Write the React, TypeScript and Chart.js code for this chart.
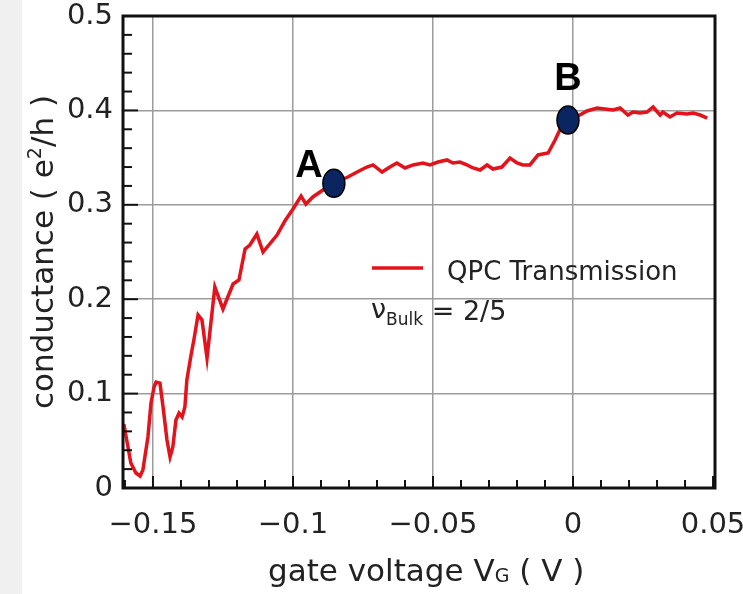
import React, { useEffect, useRef } from "react";
import { Chart, registerables } from "chart.js";

Chart.register(...registerables);

// ---- data ----
const gateVoltage = [
  -0.1604, -0.1579, -0.1561, -0.1546, -0.1536, -0.1518, -0.1507, -0.1496, -0.1489, -0.1475,
  -0.1464, -0.145, -0.1439, -0.1429, -0.1418, -0.1407, -0.1396, -0.1386, -0.1379, -0.1364,
  -0.1354, -0.1339, -0.1325, -0.1307, -0.1279, -0.125, -0.1214, -0.1193, -0.1171, -0.1154,
  -0.1129, -0.1107, -0.1057, -0.1029, -0.1, -0.0971, -0.0954, -0.0929, -0.0893, -0.0854,
  -0.0804, -0.0771, -0.0736, -0.0714, -0.0682, -0.0654, -0.0629, -0.06, -0.0571, -0.0536,
  -0.0511, -0.0482, -0.045, -0.0429, -0.0404, -0.0379, -0.0357, -0.0332, -0.0307, -0.0286,
  -0.0254, -0.0225, -0.02, -0.0179, -0.0154, -0.0125, -0.0089, -0.0064, -0.0039, -0.0018,
  0.0018, 0.005, 0.0086, 0.0114, 0.0143, 0.0168, 0.0196, 0.0214, 0.0239, 0.0264,
  0.0286, 0.0311, 0.0321, 0.0346, 0.0371, 0.0407, 0.0429, 0.0454, 0.0479,
];
const conductance = [
  0.0678, 0.0265, 0.0159, 0.0127, 0.0191, 0.054, 0.09, 0.107, 0.1123, 0.1112,
  0.0858, 0.0508, 0.0328, 0.0434, 0.072, 0.0794, 0.0752, 0.0858, 0.1144, 0.1409,
  0.1568, 0.1833, 0.178, 0.1377, 0.2129, 0.1896, 0.2161, 0.2203, 0.2532, 0.2574,
  0.2691, 0.25, 0.268, 0.2828, 0.2956, 0.3093, 0.3008, 0.3083, 0.3157, 0.3231,
  0.3294, 0.3347, 0.34, 0.3422, 0.3347, 0.34, 0.3443, 0.339, 0.3422, 0.3443,
  0.3422, 0.3453, 0.3475, 0.3443, 0.3453, 0.3422, 0.339, 0.3369, 0.3422, 0.3379,
  0.34, 0.3496, 0.3443, 0.3422, 0.3422, 0.3528, 0.3549, 0.3686, 0.3845, 0.3898,
  0.3941, 0.3994, 0.4025, 0.4015, 0.4004, 0.4025, 0.3951, 0.3983, 0.3972, 0.3983,
  0.4036, 0.3951, 0.3983, 0.393, 0.3972, 0.3962, 0.3972, 0.3951, 0.3919,
];
const seriesLabel = "QPC Transmission";
const xTickValues = [-0.15, -0.1, -0.05, 0, 0.05];
const xTickLabels = ["−0.15", "−0.1", "−0.05", "0", "0.05"];
const yTickValues = [0, 0.1, 0.2, 0.3, 0.4, 0.5];
const yTickLabels = ["0", "0.1", "0.2", "0.3", "0.4", "0.5"];
const markerNames = ["A", "B"];
const markerX = [-0.0854, -0.0018];
const markerY = [0.3228, 0.3898];

// ---- styles ----
const FONT = "'DejaVu Sans', 'Noto Sans', sans-serif";
const TEXT = "#222";
const RED = "#e3121b";
const GRID = "#9c9c9c";
const labelOffsets = [
  { dx: -25, dy: -6 },
  { dx: 0, dy: -30 },
];

function findLabel(values: number[], labels: string[], v: number) {
  const i = values.findIndex((t) => Math.abs(t - v) < 1e-9);
  return i >= 0 ? labels[i] : "";
}

const overlay = {
  id: "overlay",
  afterDatasetsDraw(chart: any) {
    const { ctx, chartArea: a, scales } = chart;
    const xs = scales.x;
    const ys = scales.y;
    ctx.save();

    // inward tick marks (minor + major)
    ctx.strokeStyle = "#111";
    ctx.lineWidth = 2;
    for (let i = -16; i <= 5; i++) {
      const v = i / 100;
      if (v < xs.min || v > xs.max) continue;
      const px = xs.getPixelForValue(v);
      const major = i % 5 === 0;
      ctx.beginPath();
      ctx.moveTo(px, a.bottom);
      ctx.lineTo(px, a.bottom - (major ? 12 : 8));
      ctx.stroke();
    }
    for (let i = 0; i <= 25; i++) {
      const v = i * 0.02;
      const py = ys.getPixelForValue(v);
      const major = i % 5 === 0;
      ctx.beginPath();
      ctx.moveTo(a.left, py);
      ctx.lineTo(a.left + (major ? 15 : 9), py);
      ctx.stroke();
    }

    // frame
    ctx.lineWidth = 3;
    ctx.strokeStyle = "#111";
    ctx.strokeRect(a.left, a.top, a.right - a.left, a.bottom - a.top);

    // markers A and B
    markerNames.forEach((name, i) => {
      const px = xs.getPixelForValue(markerX[i]);
      const py = ys.getPixelForValue(markerY[i]);
      ctx.beginPath();
      ctx.ellipse(px, py, 11, 14, 0, 0, Math.PI * 2);
      ctx.fillStyle = "#0b2560";
      ctx.fill();
      ctx.lineWidth = 1.5;
      ctx.strokeStyle = "#000";
      ctx.stroke();
      ctx.fillStyle = "#000";
      ctx.font = "bold 38px 'Liberation Sans', Arial, sans-serif";
      ctx.textAlign = "center";
      ctx.textBaseline = "alphabetic";
      ctx.fillText(name, px + labelOffsets[i].dx, py + labelOffsets[i].dy);
    });

    // legend
    ctx.strokeStyle = RED;
    ctx.lineWidth = 3.5;
    ctx.beginPath();
    ctx.moveTo(372, 268);
    ctx.lineTo(423, 268);
    ctx.stroke();
    ctx.fillStyle = TEXT;
    ctx.textAlign = "left";
    ctx.textBaseline = "alphabetic";
    ctx.font = `26px ${FONT}`;
    ctx.fillText(chart.data.datasets[0].label, 447, 280);
    ctx.font = `27px ${FONT}`;
    ctx.fillText("ν", 371, 318);
    let x = 371 + ctx.measureText("ν").width;
    ctx.font = `17px ${FONT}`;
    ctx.fillText("Bulk", x, 325);
    x += ctx.measureText("Bulk").width;
    ctx.font = `27px ${FONT}`;
    ctx.fillText(" = 2/5", x, 320);

    // x axis title
    ctx.font = `31px ${FONT}`;
    ctx.fillStyle = TEXT;
    let tx = 268;
    const ty = 581;
    ctx.fillText("gate voltage V", tx, ty);
    tx += ctx.measureText("gate voltage V").width;
    ctx.font = `19px ${FONT}`;
    ctx.fillText("G", tx, ty + 1);
    tx += ctx.measureText("G").width;
    ctx.font = `31px ${FONT}`;
    ctx.fillText(" ( V )", tx, ty);

    // y axis title (rotated)
    ctx.save();
    ctx.font = `31px ${FONT}`;
    const p1 = "conductance ( e";
    const p3 = "/h )";
    const w1 = ctx.measureText(p1).width;
    const w3 = ctx.measureText(p3).width;
    ctx.font = `19px ${FONT}`;
    const w2 = ctx.measureText("2").width;
    const total = w1 + w2 + w3;
    const cy = (a.top + a.bottom) / 2;
    ctx.translate(53, cy + total / 2);
    ctx.rotate(-Math.PI / 2);
    ctx.font = `31px ${FONT}`;
    ctx.fillText(p1, 0, 0);
    ctx.font = `19px ${FONT}`;
    ctx.fillText("2", w1, -12);
    ctx.font = `31px ${FONT}`;
    ctx.fillText(p3, w1 + w2, 0);
    ctx.restore();

    ctx.restore();
  },
};

export default function App() {
  const ref = useRef<HTMLCanvasElement>(null);

  useEffect(() => {
    const canvas = ref.current;
    if (!canvas) return;
    const chart = new Chart(canvas, {
      type: "line",
      data: {
        datasets: [
          {
            label: seriesLabel,
            data: gateVoltage.map((v, i) => ({ x: v, y: conductance[i] })),
            borderColor: RED,
            borderWidth: 3.5,
            pointRadius: 0,
            tension: 0,
            fill: false,
          },
        ],
      },
      options: {
        responsive: false,
        maintainAspectRatio: false,
        devicePixelRatio: 1,
        animation: false,
        events: [],
        layout: { padding: { top: 16, left: 0, right: 85, bottom: 0 } },
        plugins: { legend: { display: false }, tooltip: { enabled: false } },
        scales: {
          x: {
            type: "linear",
            min: -0.1607,
            max: 0.0507,
            afterBuildTicks: (scale: any) => {
              scale.ticks = xTickValues.map((v) => ({ value: v }));
            },
            afterFit: (scale: any) => {
              scale.height = 106;
              scale.paddingLeft = 0;
              scale.paddingRight = 0;
            },
            border: { display: false },
            grid: {
              drawTicks: false,
              lineWidth: 1.5,
              color: (c: any) =>
                c.tick && Math.abs(c.tick.value - 0.05) < 1e-9 ? "rgba(0,0,0,0)" : GRID,
            },
            ticks: {
              padding: 20,
              maxRotation: 0,
              autoSkip: false,
              color: TEXT,
              font: { family: FONT, size: 29 },
              callback: (v: any) => findLabel(xTickValues, xTickLabels, Number(v)),
            },
          },
          y: {
            type: "linear",
            min: 0,
            max: 0.5,
            afterBuildTicks: (scale: any) => {
              scale.ticks = yTickValues.map((v) => ({ value: v }));
            },
            afterFit: (scale: any) => {
              scale.width = 123;
              scale.paddingTop = 0;
              scale.paddingBottom = 0;
            },
            border: { display: false },
            grid: { drawTicks: false, lineWidth: 1.5, color: GRID },
            ticks: {
              padding: 10,
              color: TEXT,
              font: { family: FONT, size: 29 },
              callback: (v: any) => findLabel(yTickValues, yTickLabels, Number(v)),
            },
          },
        },
      },
      plugins: [overlay],
    } as any);
    return () => chart.destroy();
  }, []);

  return (
    <div
      style={{
        position: "fixed",
        left: 0,
        top: 0,
        width: 743,
        height: 594,
        overflow: "hidden",
        background: "#ffffff",
      }}
    >
      <div
        style={{
          position: "absolute",
          left: 0,
          top: 0,
          width: 22,
          height: 594,
          background: "#f0f0f0",
        }}
      />
      <canvas
        ref={ref}
        width={800}
        height={594}
        style={{ position: "absolute", left: 0, top: 0, width: 800, height: 594 }}
      />
    </div>
  );
}
